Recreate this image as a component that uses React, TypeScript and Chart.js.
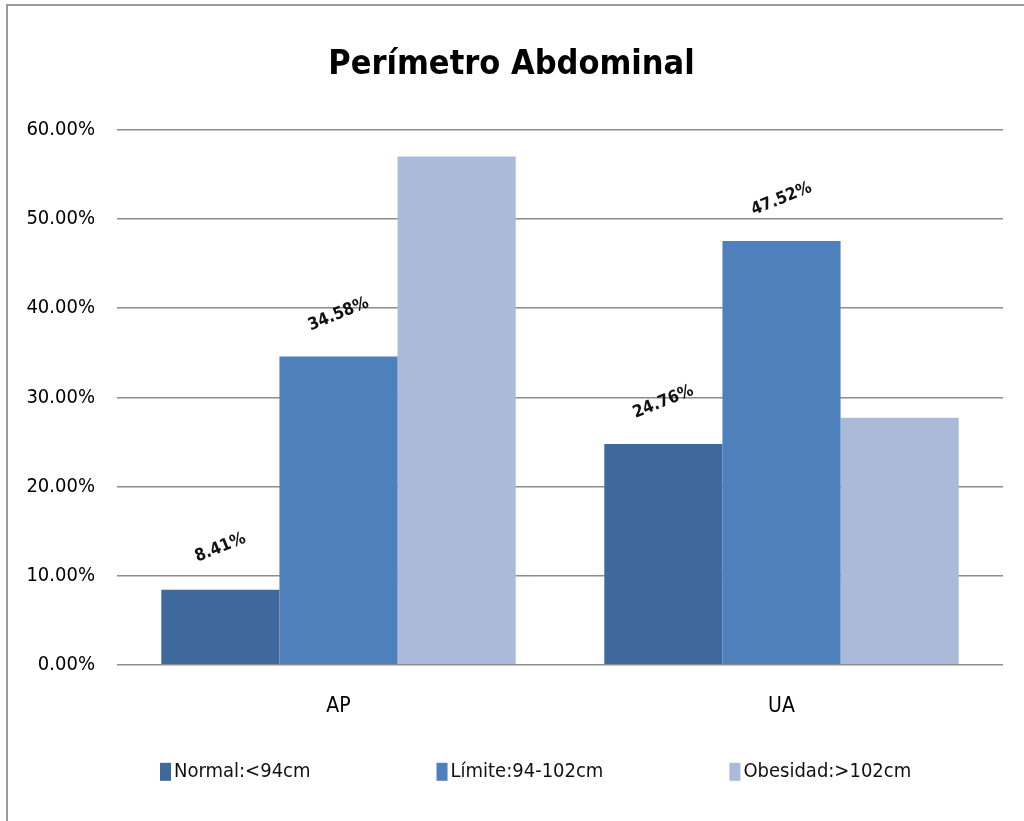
import React, { useEffect, useRef } from "react";
import { Chart, registerables } from "chart.js";

Chart.register(...registerables);

const titleText = "Perímetro Abdominal";
const categories = ["AP", "UA"];
const seriesNames = ["Normal:<94cm", "Límite:94-102cm", "Obesidad:>102cm"];
const normalValues = [8.41, 24.76];
const limiteValues = [34.58, 47.52];
const obesidadValues = [57.01, 27.72];
const seriesColors = ["#3F689C", "#4E80BC", "#AABAD8"];
const showLabels = [true, true, false];
const yTicks = [0, 10, 20, 30, 40, 50, 60];

const FONT = "'DejaVu Sans Condensed', 'Liberation Sans Narrow', sans-serif";

const labelPlugin = {
  id: "rotLabels",
  afterDatasetsDraw(chart: any) {
    const ctx = chart.ctx;
    chart.data.datasets.forEach((ds: any, di: number) => {
      if (!showLabels[di]) return;
      const meta = chart.getDatasetMeta(di);
      meta.data.forEach((bar: any, i: number) => {
        const v = ds.data[i];
        ctx.save();
        ctx.translate(bar.x, bar.y - 42);
        ctx.rotate((-22 * Math.PI) / 180);
        ctx.font = `bold 17px ${FONT}`;
        ctx.fillStyle = "#111";
        ctx.textAlign = "center";
        ctx.textBaseline = "middle";
        ctx.fillText(v.toFixed(2) + "%", 0, 0);
        ctx.restore();
      });
    });
  },
};

const legendPlugin = {
  id: "customLegend",
  afterDraw(chart: any) {
    const ctx = chart.ctx;
    const fontSize = 20;
    ctx.save();
    ctx.font = `${fontSize}px ${FONT}`;
    const boxW = 11;
    const boxH = 18;
    const textGap = 3;
    const itemGap = 126;
    const area = chart.chartArea;
    let x = area.left + 43;
    const y = area.bottom + 107;
    chart.data.datasets.forEach((ds: any) => {
      const tw = ctx.measureText(ds.label).width;
      ctx.fillStyle = ds.backgroundColor;
      ctx.fillRect(x, y - boxH / 2, boxW, boxH);
      ctx.fillStyle = "#111";
      ctx.textAlign = "left";
      ctx.textBaseline = "middle";
      ctx.fillText(ds.label, x + boxW + textGap, y);
      x += boxW + textGap + tw + itemGap;
    });
    ctx.restore();
  },
};

export default function App() {
  const ref = useRef<HTMLCanvasElement>(null);
  useEffect(() => {
    document.body.style.margin = "0";
    const chart = new Chart(ref.current!, {
      type: "bar",
      data: {
        labels: categories,
        datasets: [
          { label: seriesNames[0], data: normalValues, backgroundColor: seriesColors[0] },
          { label: seriesNames[1], data: limiteValues, backgroundColor: seriesColors[1] },
          { label: seriesNames[2], data: obesidadValues, backgroundColor: seriesColors[2] },
        ],
      },
      options: {
        animation: false,
        responsive: false,
        devicePixelRatio: 1,
        layout: { padding: { left: 20, right: 21, top: 0, bottom: 81 } },
        datasets: { bar: { barPercentage: 1, categoryPercentage: 0.8 } },
        plugins: {
          legend: { display: false },
          tooltip: { enabled: false },
          title: {
            display: true,
            text: titleText,
            color: "#000",
            font: { family: FONT, size: 34, weight: "bold" },
            padding: { top: 45, bottom: 44 },
          },
        },
        scales: {
          x: {
            grid: { display: false },
            border: { display: false },
            ticks: { color: "#000", font: { family: FONT, size: 21 }, padding: 21 },
          },
          y: {
            min: 0,
            max: 60,
            afterFit: (s: any) => {
              s.width = 97;
            },
            afterBuildTicks: (s: any) => {
              s.ticks = yTicks.map((v) => ({ value: v }));
            },
            grid: { color: "#8c8c8c", lineWidth: 1.5, drawTicks: false },
            border: { display: false },
            ticks: {
              color: "#000",
              font: { family: FONT, size: 20 },
              padding: 22,
              callback: (v: any) => Number(v).toFixed(2) + "%",
            },
          },
        },
      },
      plugins: [labelPlugin, legendPlugin],
    });
    return () => chart.destroy();
  }, []);
  return (
    <div style={{ position: "relative", width: 1024, height: 821, background: "#fff" }}>
      <canvas ref={ref} width={1024} height={821} style={{ position: "absolute", left: 0, top: 0 }} />
      <div style={{ position: "absolute", left: 6, top: 4, width: 1018, height: 2, background: "#9a9a9a" }} />
      <div style={{ position: "absolute", left: 6, top: 4, width: 2, height: 817, background: "#9a9a9a" }} />
    </div>
  );
}
